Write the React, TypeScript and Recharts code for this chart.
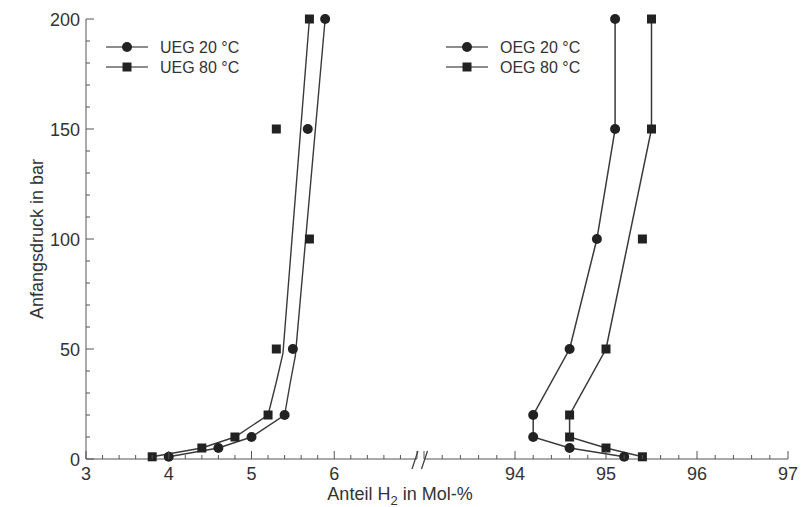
import React from "react";
import {
  ComposedChart,
  Line,
  Scatter,
  XAxis,
  YAxis,
  Legend,
} from "recharts";

// pressure levels (bar)
const PRESSURE = [1, 5, 10, 20, 50, 100, 150, 200];

// measured points (markers)
const UEG20_X = [4.0, 4.6, 5.0, 5.4, 5.5, 5.68, 5.89];
const UEG20_Y = [1, 5, 10, 20, 50, 150, 200];
const UEG80_X = [3.8, 4.4, 4.8, 5.2, 5.3, 5.7, 5.3, 5.7];
const UEG80_Y = PRESSURE;
const OEG20_X = [95.2, 94.6, 94.2, 94.2, 94.6, 94.9, 95.1, 95.1];
const OEG20_Y = PRESSURE;
const OEG80_X = [95.4, 95.0, 94.6, 94.6, 95.0, 95.4, 95.5, 95.5];
const OEG80_Y = PRESSURE;

// fitted curves (lines)
const UEG20_FIT_X = [4.0, 4.6, 5.0, 5.4, 5.47, 5.53, 5.89];
const UEG20_FIT_Y = [1, 5, 10, 20, 35, 47, 200];
const UEG80_FIT_X = [3.8, 4.4, 4.8, 5.2, 5.3, 5.38, 5.7];
const UEG80_FIT_Y = [1, 5, 10, 20, 35, 48, 200];
const OEG20_FIT_X = OEG20_X;
const OEG20_FIT_Y = OEG20_Y;
const OEG80_FIT_X = [95.4, 95.0, 94.6, 94.6, 95.0, 95.5, 95.5];
const OEG80_FIT_Y = [1, 5, 10, 20, 50, 150, 200];

// axis ticks
const LEFT_LABELS = [3, 4, 5, 6];
const RIGHT_LABELS = [94, 95, 96, 97];
const Y_LABELS = [0, 50, 100, 150, 200];

const range = (a: number, b: number, step: number) => {
  const out: number[] = [];
  for (let v = a; v <= b + 1e-9; v += step) out.push(Math.round(v * 10) / 10);
  return out;
};
const LEFT_TICKS = range(3, 7, 0.2);
const RIGHT_TICKS = range(93, 97, 0.2);
const Y_TICKS = range(0, 200, 10);

const zip = (xs: number[], ys: number[]) => xs.map((x, i) => ({ x, y: ys[i] }));

const FONT = "'Liberation Sans', Arial, sans-serif";
const INK = "#222";
const LINE = "#3a3a3a";
const AXIS = "#555";
const W = 805;
const H = 507;
const MARGIN_TOP = 19;
const MARGIN_BOTTOM = 18;
const X_AXIS_H = 30;

const Dot = (p: any) => <circle cx={p.cx} cy={p.cy} r={5} fill={INK} />;
const Square = (p: any) => (
  <rect x={p.cx - 4.5} y={p.cy - 4.5} width={9} height={9} fill={INK} />
);

const makeXTick = (labels: number[]) => (p: any) => {
  const v = p.payload.value;
  const major = Math.abs(v - Math.round(v)) < 1e-6;
  return (
    <g>
      <line x1={p.x} x2={p.x} y1={p.y} y2={p.y - (major ? 8 : 4)} stroke={AXIS} />
      {major && labels.includes(Math.round(v)) && (
        <text x={p.x} y={p.y + 21} textAnchor="middle" fontSize={18} fill="#333" fontFamily={FONT}>
          {Math.round(v)}
        </text>
      )}
    </g>
  );
};

const YTick = (p: any) => {
  const v = p.payload.value;
  const major = Y_LABELS.includes(v);
  return (
    <g>
      <line x1={p.x} x2={p.x + (major ? 8 : 4)} y1={p.y} y2={p.y} stroke={AXIS} />
      {major && (
        <text x={p.x - 6} y={p.y + 6.5} textAnchor="end" fontSize={18} fill="#333" fontFamily={FONT}>
          {v}
        </text>
      )}
    </g>
  );
};

type Item = { name: string; shape: "dot" | "square" };
const LegendBox = ({ items }: { items: Item[] }) => (
  <svg width={170} height={44} style={{ display: "block" }}>
    {items.map((it, i) => (
      <g key={it.name} transform={`translate(0, ${10 + i * 20})`}>
        <line x1={0} x2={42} y1={0} y2={0} stroke="#666" strokeWidth={1.3} />
        {it.shape === "dot" ? (
          <circle cx={21} cy={0} r={5} fill={INK} />
        ) : (
          <rect x={16.5} y={-4.5} width={9} height={9} fill={INK} />
        )}
        <text x={54} y={6} fontSize={16} fill="#333" fontFamily={FONT}>
          {it.name}
        </text>
      </g>
    ))}
  </svg>
);

const UEG_ITEMS: Item[] = [
  { name: "UEG 20 °C", shape: "dot" },
  { name: "UEG 80 °C", shape: "square" },
];
const OEG_ITEMS: Item[] = [
  { name: "OEG 20 °C", shape: "dot" },
  { name: "OEG 80 °C", shape: "square" },
];

function LeftPanel() {
  return (
    <ComposedChart
      width={W}
      height={H}
      margin={{ top: MARGIN_TOP, right: W - 417, bottom: MARGIN_BOTTOM, left: 0 }}
    >
      <XAxis
        type="number"
        dataKey="x"
        domain={[3, 7]}
        ticks={LEFT_TICKS}
        interval={0}
        height={X_AXIS_H}
        tickSize={0}
        tickMargin={0}
        tickLine={false}
        axisLine={{ stroke: AXIS }}
        tick={makeXTick(LEFT_LABELS)}
        label={{
          content: () => (
            <text x={400} y={500} textAnchor="middle" fontSize={18} fill="#333" fontFamily={FONT}>
              Anteil H
              <tspan fontSize={13} dy={5}>2</tspan>
              <tspan dy={-5}> in Mol-%</tspan>
            </text>
          ),
        }}
      />
      <YAxis
        type="number"
        dataKey="y"
        domain={[0, 200]}
        ticks={Y_TICKS}
        interval={0}
        width={86}
        tickSize={0}
        tickMargin={0}
        tickLine={false}
        axisLine={{ stroke: AXIS }}
        tick={YTick}
        label={{
          content: ({ viewBox }: any) => {
            const cx = viewBox.x + 37;
            const cy = viewBox.y + viewBox.height / 2;
            return (
              <text
                x={cx}
                y={cy}
                transform={`rotate(-90 ${cx} ${cy})`}
                textAnchor="middle"
                dominantBaseline="central"
                fontSize={18}
                fill="#333"
                fontFamily={FONT}
              >
                Anfangsdruck in bar
              </text>
            );
          },
        }}
      />
      <Legend
        layout="horizontal"
        verticalAlign="middle"
        align="center"
        wrapperStyle={{ left: 106, top: 37, width: 170, height: 44 }}
        content={() => <LegendBox items={UEG_ITEMS} />}
      />
      <Line data={zip(UEG20_FIT_X, UEG20_FIT_Y)} dataKey="y" type="linear" stroke={LINE} strokeWidth={1.4} dot={false} isAnimationActive={false} />
      <Line data={zip(UEG80_FIT_X, UEG80_FIT_Y)} dataKey="y" type="linear" stroke={LINE} strokeWidth={1.4} dot={false} isAnimationActive={false} />
      <Scatter data={zip(UEG20_X, UEG20_Y)} shape={Dot} isAnimationActive={false} />
      <Scatter data={zip(UEG80_X, UEG80_Y)} shape={Square} isAnimationActive={false} />
    </ComposedChart>
  );
}

function RightPanel() {
  return (
    <ComposedChart
      width={W}
      height={H}
      margin={{ top: MARGIN_TOP, right: W - 788, bottom: MARGIN_BOTTOM, left: 424 }}
    >
      <XAxis
        type="number"
        dataKey="x"
        domain={[93, 97]}
        ticks={RIGHT_TICKS}
        interval={0}
        height={X_AXIS_H}
        tickSize={0}
        tickMargin={0}
        tickLine={false}
        axisLine={{ stroke: AXIS }}
        tick={makeXTick(RIGHT_LABELS)}
      />
      <YAxis type="number" dataKey="y" domain={[0, 200]} hide />
      <Legend
        layout="horizontal"
        verticalAlign="middle"
        align="center"
        wrapperStyle={{ left: 446, top: 37, width: 170, height: 44 }}
        content={() => <LegendBox items={OEG_ITEMS} />}
      />
      <Line data={zip(OEG20_FIT_X, OEG20_FIT_Y)} dataKey="y" type="linear" stroke={LINE} strokeWidth={1.5} dot={false} isAnimationActive={false} />
      <Line data={zip(OEG80_FIT_X, OEG80_FIT_Y)} dataKey="y" type="linear" stroke={LINE} strokeWidth={1.5} dot={false} isAnimationActive={false} />
      <Scatter data={zip(OEG20_X, OEG20_Y)} shape={Dot} isAnimationActive={false} />
      <Scatter data={zip(OEG80_X, OEG80_Y)} shape={Square} isAnimationActive={false} />
    </ComposedChart>
  );
}

export default function App() {
  const axisY = H - MARGIN_BOTTOM - X_AXIS_H;
  return (
    <div style={{ position: "absolute", left: 0, top: 0, width: W, height: H, background: "#fff" }}>
      <div style={{ position: "absolute", left: 0, top: 0 }}>
        <LeftPanel />
      </div>
      <div style={{ position: "absolute", left: 0, top: 0 }}>
        <RightPanel />
      </div>
      {/* axis break marks */}
      <svg width={W} height={H} style={{ position: "absolute", left: 0, top: 0, pointerEvents: "none" }}>
        <line x1={412} y1={axisY + 10} x2={418} y2={axisY - 8} stroke="#444" strokeWidth={1.3} />
        <line x1={421.5} y1={axisY + 10} x2={427.5} y2={axisY - 8} stroke="#444" strokeWidth={1.3} />
      </svg>
    </div>
  );
}
